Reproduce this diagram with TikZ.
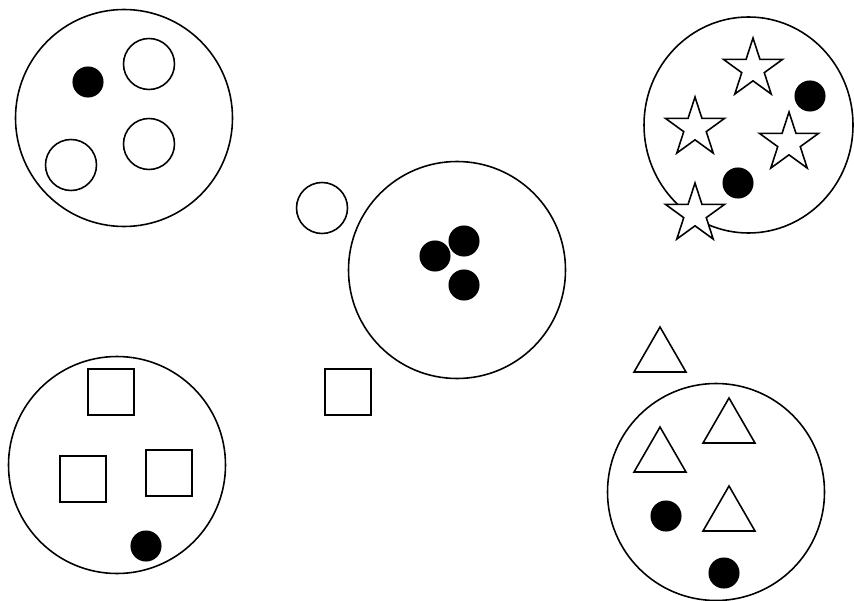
\documentclass[tikz,border=0pt]{standalone}
\usepackage{tikz}
\usetikzlibrary{shapes.geometric}

\begin{document}
\begin{tikzpicture}[x=0.1mm, y=-0.1mm,
				setring/.style={draw=black, fill=none, circle, inner sep=0pt, line width=0.45pt,
						minimum size=21.7mm},
				setoval/.style={draw=black, fill=none, ellipse, inner sep=0pt, line width=0.45pt,
						minimum width=20.9mm, minimum height=21.6mm},
				hole/.style={draw=black, fill=white, circle, inner sep=0pt, line width=0.45pt,
						minimum size=5.1mm},
				blob/.style={draw=black, fill=black, circle, inner sep=0pt, line width=0.3pt,
						minimum size=3mm},
				sqbox/.style={draw=black, fill=white, rectangle, inner sep=0pt, line width=0.45pt,
						minimum size=4.6mm},
				tri/.style={draw=black, fill=white, regular polygon, regular polygon sides=3,
						inner sep=0pt, line width=0.45pt, minimum size=6mm},
				pent/.style={draw=black, fill=white, star, star points=5, star point ratio=2.618,
						inner sep=0pt, line width=0.45pt, minimum size=6.2mm},
			]
			\useasboundingbox (0,0) rectangle (854,600);
			% circles
			\node[setring] (gc) at (124,118) {};
			\node[blob]    (gc1) at ( 88, 82) {};
			\node[hole]    (gc2) at (149, 64) {};
			\node[hole]    (gc3) at (149,144) {};
			\node[hole]    (gc4) at ( 71,165) {};
			% middle
			\node[setring] (gm) at (457,270) {};
			\node[hole]    (gm0) at (322,208) {};
			\node[blob]    (gm1) at (435,256) {};
			\node[blob]    (gm2) at (464,241) {};
			\node[blob]    (gm3) at (464,285) {};
			% stars
			\node[setoval] (gs) at (748.5,125) {};
			\node[pent]    (gs1) at (753, 69) {};
			\node[pent]    (gs2) at (695,128) {};
			\node[pent]    (gs3) at (789,143) {};
			\node[pent]    (gs4) at (695,214) {};
			\node[blob]    (gs5) at (810, 96) {};
			\node[blob]    (gs6) at (738,183) {};
			% squares
			\node[setring] (gq) at (117,465) {};
			\node[sqbox]   (gq1) at (111,392) {};
			\node[sqbox]   (gq2) at ( 83,479) {};
			\node[sqbox]   (gq3) at (169,473) {};
			\node[blob]    (gq4) at (146,546) {};
			\node[sqbox]   (gq0) at (348,392) {};
			% triangles
			\node[setring] (gt) at (716,492) {};
			\node[tri]     (gt0) at (660,357) {};
			\node[tri]     (gt1) at (729,428) {};
			\node[tri]     (gt2) at (660,457) {};
			\node[tri]     (gt3) at (729,516) {};
			\node[blob]    (gt4) at (666,516) {};
			\node[blob]    (gt5) at (724,573) {};
		\end{tikzpicture}
\end{document}
